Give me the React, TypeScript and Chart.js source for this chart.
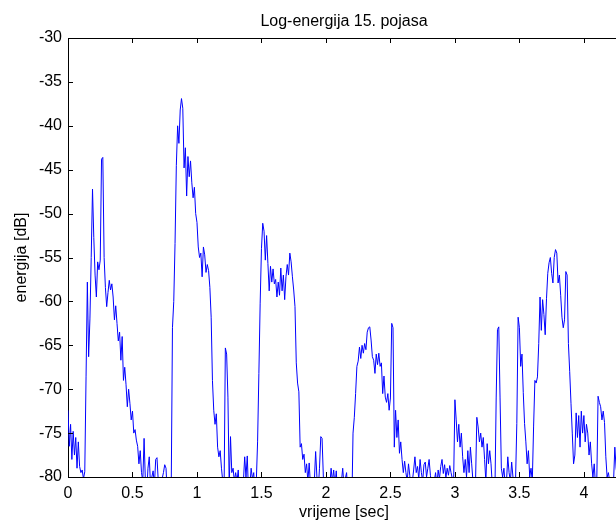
import { useEffect, useRef } from "react";
import { Chart, registerables } from "chart.js";

Chart.register(...registerables);

const chartTitle = "Log-energija 15. pojasa";
const xAxisLabel = "vrijeme [sec]";
const yAxisLabel = "energija [dB]";

const frameStepSec = 0.01;
const xRange = [0, 4.28];
const yRange = [-80, -30];
const xTickValues = [0, 0.5, 1, 1.5, 2, 2.5, 3, 3.5, 4];
const yTickValues = [-80, -75, -70, -65, -60, -55, -50, -45, -40, -35, -30];

// log-energy of band 15, one value per 10 ms frame (values below -80 are clipped by the axis)
const energyDb = [
  -72.4, -76.5, -74, -78, -74.8, -77.5, -75.5, -79, -76, -78.8,
  -79.5, -79.2, -80.2, -79.4, -68.6, -57.8, -66.3, -62, -55, -47.2,
  -52.7, -57, -59.5, -55.5, -56.4, -55.3, -43.8, -43.6, -55, -58.4,
  -60.6, -59, -57.6, -58.7, -58, -59.5, -62.1, -60.5, -62.5, -64.5,
  -63.5, -66.7, -64, -69, -67.5, -69.5, -72, -70, -71.6, -73.5,
  -72.5, -75, -74.6, -75.8, -76.5, -78.5, -77, -79.5, -80.5, -75.6,
  -80.5, -82, -79, -77.7, -81, -80, -79.3, -81, -78, -77.8,
  -80.5, -82, -81, -80.2, -79.5, -78.6, -79, -82, -84, -83,
  -82, -63, -60, -53.4, -44.5, -40, -42, -38.2, -36.9, -38,
  -44.8, -42.5, -48, -43.5, -45.8, -44, -46.5, -48.2, -47, -50,
  -51, -53.8, -55, -54.5, -57.2, -53.8, -54.7, -56.7, -55.8, -56.5,
  -58.4, -61.8, -69, -72.4, -74, -72.8, -76.6, -77.7, -77, -79,
  -80.5, -82, -65.3, -66, -70.9, -81, -75.4, -79.5, -79, -80.5,
  -79.5, -80.5, -79.2, -82, -81, -83, -80.5, -77.7, -80, -77.6,
  -82, -81, -79, -80.2, -79.5, -82, -80.5, -76, -68.2, -60.2,
  -54, -51.1, -52, -55.3, -52.5, -55.7, -58.8, -56, -57.8, -56.3,
  -58, -57.5, -59.5, -57.8, -59.3, -56.2, -58.8, -57, -59.8, -57.2,
  -55.8, -57, -54.5, -55.5, -57.2, -58.7, -60.6, -67, -69.3, -70.3,
  -76.6, -76.2, -78, -77.4, -79.5, -78.5, -80.5, -78.4, -81, -80.2,
  -82, -80.5, -77.1, -80, -81.5, -79, -75.4, -75.6, -80, -82,
  -84, -82, -83, -81, -79, -80.5, -79.2, -81, -79.3, -82,
  -84, -82, -80.5, -79, -81, -80.2, -79.5, -82, -84, -85,
  -84, -75, -73.2, -70.5, -67.4, -66.8, -65.2, -66.5, -65, -65.9,
  -64.8, -65.5, -63.5, -63, -62.9, -64.4, -66.3, -66.7, -68.2, -66,
  -67.2, -65.9, -67.4, -67, -70.5, -68.5, -70.9, -71.5, -70.5, -72.4,
  -71, -62.5, -63, -76.6, -72.4, -75.5, -73.5, -77.3, -76, -78,
  -79.5, -78.2, -79.5, -80.5, -78.5, -79.8, -82, -80.5, -79.2, -77.7,
  -79.5, -78.8, -80.2, -78, -79.5, -80.5, -78.6, -78.3, -80, -79,
  -78, -79.8, -81, -83, -80.5, -79.5, -81, -79.2, -80.2, -78.8,
  -78, -79.6, -78.6, -80.1, -79, -79.8, -78.7, -79.5, -80.2, -80.5,
  -71.2, -73.5, -76, -74, -76.6, -75, -77.7, -79.5, -78, -80,
  -77, -79.5, -76.6, -78.5, -80.5, -82, -80.5, -73.2, -74.3, -76,
  -75, -76.6, -75.5, -78, -80.5, -76.2, -78.5, -77, -78.5, -81,
  -84, -82, -71, -63.2, -62.9, -71, -79, -80, -79, -81,
  -80.5, -77.7, -79.5, -80.5, -78.3, -80, -82, -80.5, -73.9, -61.8,
  -63, -67.4, -66, -70.4, -73.9, -76, -78.5, -77, -80, -79,
  -80.5, -74.3, -69, -69.3, -68.6, -64.8, -59.5, -63.3, -59.8, -61.5,
  -63.8, -59.7, -56.8, -55.6, -55, -56.8, -57.9, -55, -54.1, -54.5,
  -57.9, -57, -59.3, -61.8, -63, -62.1, -56.6, -57, -64.8, -68,
  -71.6, -75, -78.5, -77.5, -72.7, -75.5, -73, -76.6, -72.5, -75,
  -73, -76, -74, -75, -77.5, -76, -78.5, -80, -78.5, -81,
  -80.5, -70.8, -71.5, -72, -73.5, -72.5, -73.8, -77.7, -80, -79.5,
  -80.5, -81, -80.2, -80.5, -76.6, -79, -80, -78,
];

const FONT_FAMILY = '"Liberation Sans", Arial, Helvetica, sans-serif';
const CANVAS_W = 640;
const CANVAS_H = 522;

const matlabFrame = {
  id: "matlabFrame",
  afterDraw(chart: any) {
    const { ctx, chartArea } = chart;
    const { left, right, top, bottom } = chartArea;
    const xs = chart.scales.x;
    const ys = chart.scales.y;
    const a = (v: number) => Math.round(v) + 0.5;
    ctx.save();
    ctx.strokeStyle = "#000";
    ctx.lineWidth = 1;
    ctx.beginPath();
    ctx.moveTo(left, a(top));
    ctx.lineTo(right, a(top));
    for (const v of xTickValues) {
      const px = a(xs.getPixelForValue(v));
      ctx.moveTo(px, bottom);
      ctx.lineTo(px, bottom - 5);
      ctx.moveTo(px, top);
      ctx.lineTo(px, top + 5);
    }
    for (const v of yTickValues) {
      const py = a(ys.getPixelForValue(v));
      ctx.moveTo(left, py);
      ctx.lineTo(left + 5, py);
    }
    ctx.stroke();
    ctx.font = `16px ${FONT_FAMILY}`;
    ctx.fillStyle = "#000";
    ctx.textAlign = "center";
    ctx.textBaseline = "alphabetic";
    ctx.fillText(chartTitle, (left + right) / 2, 26);
    ctx.restore();
  },
};

export default function App() {
  const canvasRef = useRef<HTMLCanvasElement | null>(null);

  useEffect(() => {
    if (!canvasRef.current) return;
    const points = energyDb.map((v, i) => ({ x: i * frameStepSec, y: v }));
    const chart = new Chart(canvasRef.current, {
      type: "line",
      data: {
        datasets: [
          {
            data: points,
            borderColor: "#0000ff",
            borderWidth: 1,
            pointRadius: 0,
            pointHoverRadius: 0,
            tension: 0,
            fill: false,
            borderJoinStyle: "bevel",
          },
        ],
      },
      options: {
        animation: false,
        responsive: false,
        devicePixelRatio: 1,
        events: [],
        layout: { padding: { top: 38, right: CANVAS_W - 620, bottom: 0, left: 0 } },
        plugins: {
          legend: { display: false },
          title: { display: false },
          tooltip: { enabled: false },
        },
        scales: {
          x: {
            type: "linear",
            position: "bottom",
            min: xRange[0],
            max: xRange[1],
            afterBuildTicks: (scale: any) => {
              scale.ticks = xTickValues.map((v) => ({ value: v }));
            },
            afterFit: (scale: any) => {
              scale.height = 45;
            },
            grid: { display: false, drawTicks: false },
            border: { display: true, color: "#000", width: 1 },
            ticks: {
              color: "#000",
              padding: 7,
              maxRotation: 0,
              autoSkip: false,
              font: { family: FONT_FAMILY, size: 16 },
              callback: (v: any) => String(v),
            },
            title: {
              display: true,
              text: xAxisLabel,
              color: "#000",
              font: { family: FONT_FAMILY, size: 16 },
              padding: { top: 0, bottom: 0 },
            },
          },
          y: {
            type: "linear",
            position: "left",
            min: yRange[0],
            max: yRange[1],
            afterBuildTicks: (scale: any) => {
              scale.ticks = yTickValues.map((v) => ({ value: v }));
            },
            afterFit: (scale: any) => {
              scale.width = 68;
            },
            grid: { display: false, drawTicks: false },
            border: { display: true, color: "#000", width: 1 },
            ticks: {
              color: "#000",
              padding: 6,
              autoSkip: false,
              font: { family: FONT_FAMILY, size: 16 },
              callback: (v: any) => String(v),
            },
            title: {
              display: true,
              text: yAxisLabel,
              color: "#000",
              font: { family: FONT_FAMILY, size: 16 },
              padding: { top: 12, bottom: 0 },
            },
          },
        },
      },
      plugins: [matlabFrame],
    });
    return () => chart.destroy();
  }, []);

  return (
    <div
      style={{
        position: "fixed",
        left: 0,
        top: 0,
        width: 616,
        height: CANVAS_H,
        overflow: "hidden",
        background: "#fff",
      }}
    >
      <canvas ref={canvasRef} width={CANVAS_W} height={CANVAS_H} style={{ display: "block" }} />
    </div>
  );
}
